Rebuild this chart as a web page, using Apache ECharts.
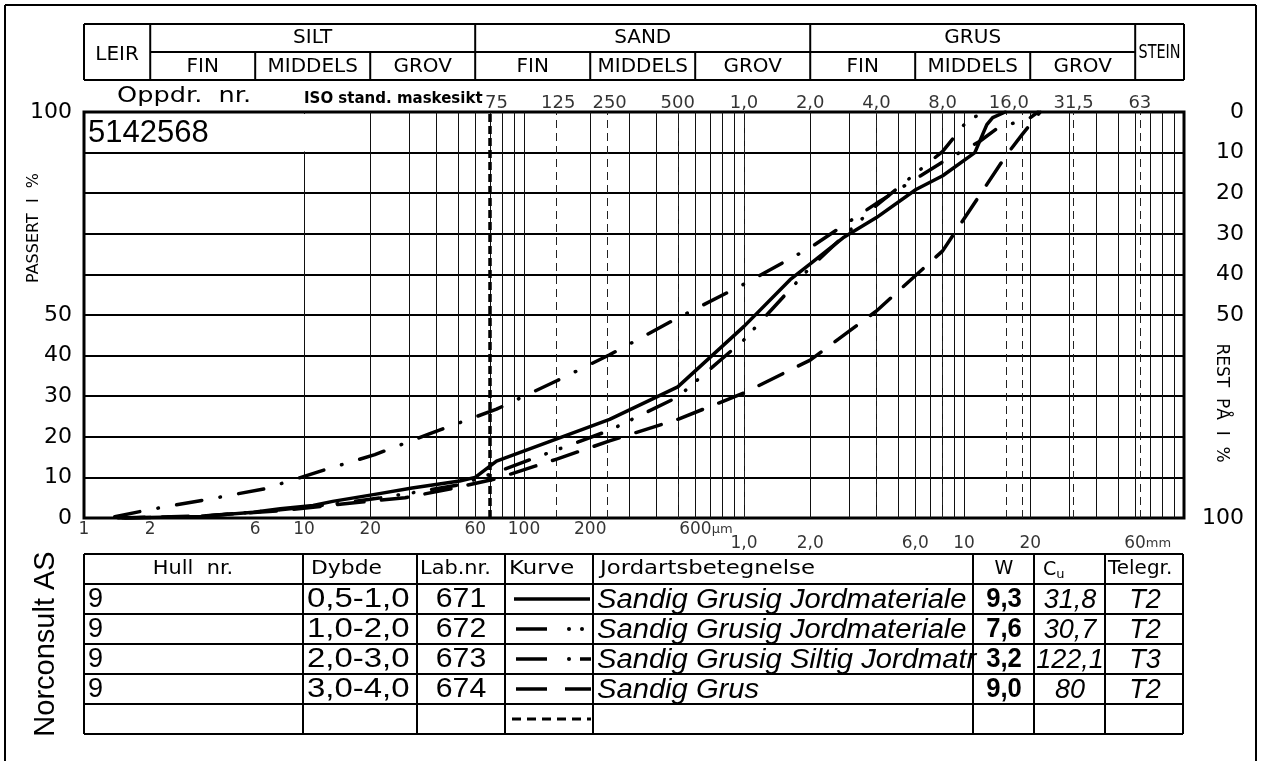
<!DOCTYPE html>
<html>
<head>
<meta charset="utf-8">
<title>Kornfordeling 5142568</title>
<script src="https://cdn.jsdelivr.net/npm/echarts@6.0.0/dist/echarts.min.js"></script>
<style>
html, body { margin: 0; padding: 0; background: #fff; }
#main { width: 1263px; height: 761px; }
</style>
</head>
<body>
<div id="main"></div>
<script>
// kornstørrelse (mm) og passert (%) for hver kurve
const size671 = [0.0015, 0.0034, 0.0059, 0.0078, 0.011, 0.0135, 0.022, 0.031, 0.051, 0.060, 0.075, 0.141, 0.245, 0.5, 1.0, 1.62, 2.0, 2.82, 4.0, 6.05, 8.0, 11.2, 12.7, 13.5, 15.4];
const pass671 = [0, 0.4, 1.4, 2.3, 3.1, 4.1, 6.0, 7.4, 9.1, 10.0, 14.0, 19.5, 24.3, 32.3, 47.2, 58.7, 62.6, 69.0, 74.0, 80.9, 84.3, 90.0, 96.9, 98.6, 100];

const size672 = [0.00154, 0.0034, 0.0078, 0.0135, 0.022, 0.031, 0.051, 0.075, 0.141, 0.245, 0.5, 1.0, 2.0, 4.0, 8.0, 10.4, 12.5];
const pass672 = [0, 0.4, 2.0, 3.4, 4.9, 6.2, 8.2, 11.3, 16.8, 21.6, 29.8, 43.9, 61.7, 77.0, 90.3, 98.0, 100];

const size673 = [0.00138, 0.002, 0.00366, 0.00665, 0.0118, 0.021, 0.0366, 0.075, 0.141, 0.245, 0.5, 1.0, 2.0, 4.0, 8.0, 11.8, 14.6, 19.3, 21.7];
const pass673 = [0.3, 2.1, 4.6, 7.2, 11.5, 15.6, 20.6, 26.8, 33.8, 40.2, 49.3, 57.6, 66.6, 77.5, 87.7, 92.8, 96.5, 98.0, 100];

const size674 = [0.00143, 0.0034, 0.0078, 0.0141, 0.0288, 0.0447, 0.075, 0.141, 0.245, 0.5, 1.0, 2.0, 4.0, 8.0, 15.5, 18.4, 22.2];
const pass674 = [0, 0.5, 1.8, 3.3, 5.0, 7.0, 9.7, 14.5, 19.0, 24.3, 30.8, 38.9, 51.0, 65.8, 89.2, 94.5, 100];

// rutenett og siktelinjer (mm)
const gridSizes = [0.002, 0.003, 0.004, 0.005, 0.006, 0.007, 0.008, 0.009,
  0.01, 0.02, 0.03, 0.04, 0.05, 0.06, 0.07, 0.08, 0.09,
  0.1, 0.2, 0.3, 0.4, 0.5, 0.6, 0.7, 0.8, 0.9,
  1, 2, 3, 4, 5, 6, 7, 8, 9,
  10, 20, 30, 40, 50, 60, 70, 80, 90];
const sieveLines = [0.141, 0.245, 0.5, 1, 4, 8, 15.5, 18.4, 31.5, 63];
const finesLine = 0.075;

// aksetekster
const bottomTickSizes = [0.001, 0.002, 0.006, 0.01, 0.02, 0.06, 0.1, 0.2, 0.6, 1, 2, 6, 10, 20, 60];
const bottomTickLabels = ['1', '2', '6', '10', '20', '60', '100', '200', '600µm', '1,0', '2,0', '6,0', '10', '20', '60mm'];
const sieveLabelSizes = [0.075, 0.143, 0.245, 0.5, 1, 2, 4, 8, 16, 31.5, 63];
const sieveLabels = ['75', '125', '250', '500', '1,0', '2,0', '4,0', '8,0', '16,0', '31,5', '63'];

// fraksjonsinndeling (mm)
const fractionNames = ['SILT', 'SAND', 'GRUS'];
const fractionBounds = [0.002, 0.06, 2, 60];
const subNames = ['FIN', 'MIDDELS', 'GROV'];
const subBounds = [0.002, 0.006, 0.02, 0.06, 0.2, 0.6, 2, 6, 20, 60];

// tabell
const holeNr = ['9', '9', '9', '9'];
const depths = ['0,5-1,0', '1,0-2,0', '2,0-3,0', '3,0-4,0'];
const labNrs = ['671', '672', '673', '674'];
const soilNames = ['Sandig Grusig Jordmateriale', 'Sandig Grusig Jordmateriale', 'Sandig Grusig Siltig Jordmatr', 'Sandig Grus'];
const waterContent = ['9,3', '7,6', '3,2', '9,0'];
const cuValues = ['31,8', '30,7', '122,1', '80'];
const telegr = ['T2', 'T2', 'T3', 'T2'];

const CAD = '"DejaVu Sans"';
const ARIAL = '"Liberation Sans"';

function zip(a, b) { return a.map(function (v, i) { return [v, b[i]]; }); }

function curve(name, sizes, pass, dash) {
  return {
    name: name, type: 'line', z: 10, symbol: 'none', silent: true,
    data: zip(sizes, pass),
    lineStyle: { color: '#000', width: 3.5, type: dash, cap: 'round', join: 'round' }
  };
}

var verticals = gridSizes.map(function (v) { return { xAxis: v }; })
  .concat(sieveLines.map(function (v) {
    return { xAxis: v, lineStyle: { color: '#222', width: 1, type: [8, 5] } };
  }))
  .concat([{ xAxis: finesLine, lineStyle: { color: '#000', width: 3.5, type: [8, 4] } }]);

var option = {
  animation: false,
  backgroundColor: '#fff',
  grid: {
    left: 84, top: 112, width: 1100, height: 406,
    show: true, borderColor: '#000', borderWidth: 3, backgroundColor: 'transparent',
    outerBoundsMode: 'none'
  },
  xAxis: {
    type: 'log', logBase: 10, min: 0.001, max: 100,
    axisLine: { show: false }, axisTick: { show: false }, axisLabel: { show: false },
    splitLine: { show: false }
  },
  yAxis: [{
    type: 'value', min: 0, max: 100, interval: 10, position: 'left',
    axisLine: { show: false }, axisTick: { show: false },
    splitLine: { show: true, lineStyle: { color: '#000', width: 2 } },
    axisLabel: {
      margin: 12, fontSize: 22, fontFamily: 'DejaVu Sans', color: '#000',
      formatter: function (v) { return (v > 50 && v < 100) ? '' : String(v); }
    }
  }, {
    type: 'value', min: 0, max: 100, interval: 10, position: 'right', inverse: true,
    axisLine: { show: false }, axisTick: { show: false }, splitLine: { show: false },
    axisLabel: {
      align: 'right', margin: 60, fontSize: 22, fontFamily: 'DejaVu Sans', color: '#000',
      formatter: function (v) { return (v > 50 && v < 100) ? '' : String(v); }
    }
  }],
  series: [{
    name: 'bunn', type: 'scatter', symbolSize: 0.1, clip: false, silent: true,
    itemStyle: { color: 'transparent' },
    data: bottomTickSizes.map(function (v, i) {
      var lbl = bottomTickLabels[i];
      var item = { value: [v, 0], name: lbl };
      var unit = /[a-zµ]/.test(lbl);
      item.label = { distance: v >= 1 ? 17 : 3 };
      if (unit) { item.label.align = 'left'; item.label.offset = [v >= 1 ? -11 : -16, 0]; }
      return item;
    }),
    label: {
      show: true, position: 'bottom', color: '#000',
      formatter: function (p) {
        var m = p.name.match(/^([\d,]+)(\D*)$/);
        return m[2] ? '{n|' + m[1] + '}{u|' + m[2] + '}' : '{n|' + p.name + '}';
      },
      rich: {
        n: { fontSize: 17, fontFamily: 'DejaVu Sans', color: '#000' },
        u: { fontSize: 13, fontFamily: 'DejaVu Sans', color: '#000' }
      }
    },
    markLine: {
      silent: true, symbol: ['none', 'none'], animation: false,
      label: { show: false },
      lineStyle: { color: '#111', width: 1, type: 'solid' },
      data: verticals
    }
  }, {
    name: 'sikt', type: 'scatter', symbolSize: 0.1, clip: false, silent: true,
    itemStyle: { color: 'transparent' },
    data: sieveLabelSizes.map(function (v, i) { return { value: [v, 100], name: sieveLabels[i] }; }),
    label: {
      show: true, position: 'top', distance: 0, color: '#000',
      fontSize: 18, fontFamily: 'DejaVu Sans',
      formatter: function (p) { return p.name; }
    }
  },
    curve('671', size671, pass671, 'solid'),
    curve('672', size672, pass672, [25.5, 17.5, 0.5, 15, 0.5, 18]),
    curve('673', size673, pass673, [25.5, 18.5, 0.5, 18.5]),
    curve('674', size674, pass674, [26.5, 17.5])
  ]
};

var chart = echarts.init(document.getElementById('main'), null, { renderer: 'canvas' });
chart.setOption(option);

function px(v) { return chart.convertToPixel({ xAxisIndex: 0 }, v); }

function text(x, y, str, font, o) {
  o = o || {};
  var st = {
    text: str, font: font, fill: '#000',
    align: o.align || 'left', verticalAlign: 'middle',
    textAlign: o.align || 'left', textVerticalAlign: 'middle'
  };
  if (o.rich) st.rich = o.rich;
  return { type: 'text', x: x, y: y, z: 30, silent: true,
    rotation: o.rot || 0, scaleX: o.sx || 1, scaleY: 1, style: st };
}
function seg(x1, y1, x2, y2, w) {
  return { type: 'line', z: 30, silent: true, shape: { x1: x1, y1: y1, x2: x2, y2: y2 },
    style: { stroke: '#000', lineWidth: w || 2 } };
}

function buildGraphic() {
  var g = [];
  // ramme
  g.push(seg(5, 5, 1256, 5, 2), seg(5, 5, 5, 761, 2), seg(1256, 5, 1256, 761, 2));

  // fraksjonshode
  var xL = px(0.001), xR = px(100);
  var hTop = 24, hMid = 52, hBot = 80;
  g.push(seg(xL, hTop, xR, hTop), seg(xL, hBot, xR, hBot), seg(xL, hTop, xL, hBot), seg(xR, hTop, xR, hBot));
  g.push(seg(px(fractionBounds[0]), hMid, px(fractionBounds[3]), hMid));
  fractionBounds.forEach(function (b) { g.push(seg(px(b), hTop, px(b), hBot)); });
  subBounds.forEach(function (b) {
    if (fractionBounds.indexOf(b) < 0) g.push(seg(px(b), hMid, px(b), hBot));
  });
  var hf = '20px ' + CAD;
  g.push(text((xL + px(0.002)) / 2, 55, 'LEIR', hf, { align: 'center' }));
  g.push(text((px(60) + xR) / 2, 53, 'STEIN', hf, { align: 'center', sx: 0.72 }));
  fractionNames.forEach(function (n, i) {
    g.push(text((px(fractionBounds[i]) + px(fractionBounds[i + 1])) / 2, 38, n, hf, { align: 'center' }));
  });
  for (var i = 0; i < subBounds.length - 1; i++) {
    g.push(text((px(subBounds[i]) + px(subBounds[i + 1])) / 2, 67, subNames[i % 3], hf, { align: 'center' }));
  }

  g.push(text(117, 97, 'Oppdr.  nr.', '21px ' + CAD, { sx: 1.22 }));
  g.push(text(304, 99, 'ISO stand. maskesikt', '600 15px ' + CAD));

  // oppdragsnummer
  g.push({ type: 'rect', z: 25, silent: true, shape: { x: 86, y: 114, width: px(0.02) - 87, height: 37.5 },
    style: { fill: '#fff' } });
  g.push(text(88, 133, '5142568', '31px ' + ARIAL));

  // aksetitler
  g.push(text(34, 228, 'PASSERT  I  %', '16px ' + CAD, { align: 'center', rot: Math.PI / 2 }));
  g.push(text(1221, 403, 'REST  PÅ  I  %', '17px ' + CAD, { align: 'center', rot: -Math.PI / 2 }));

  // tabell
  var cols = [84, 303, 417, 505, 593, 973, 1034, 1105, 1183];
  var rows = [554, 584, 614, 644, 674, 704, 734];
  cols.forEach(function (c) { g.push(seg(c, rows[0], c, rows[rows.length - 1])); });
  rows.forEach(function (r) { g.push(seg(cols[0], r, cols[cols.length - 1], r)); });

  var tf = '19px ' + CAD, ty = (rows[0] + rows[1]) / 2;
  g.push(text(193, ty, 'Hull  nr.', tf, { align: 'center', sx: 1.1 }));
  g.push(text(311, ty, 'Dybde', tf, { sx: 1.15 }));
  g.push(text(420, ty, 'Lab.nr.', tf, { sx: 1.1 }));
  g.push(text(509, ty, 'Kurve', tf, { sx: 1.2 }));
  g.push(text(600, ty, 'Jordartsbetegnelse', tf, { sx: 1.2 }));
  g.push(text(1004, ty, 'W', tf, { align: 'center' }));
  g.push(text(1043, ty + 1, '{c|C}{s|u}', tf, { rich: {
    c: { font: tf, fill: '#000' },
    s: { font: '13px ' + CAD, fill: '#000', padding: [10, 0, 0, 0] } } }));
  g.push(text(1108, ty, 'Telegr.', tf, { sx: 1.05 }));

  var rf = '27px ' + ARIAL;
  for (var r = 0; r < labNrs.length; r++) {
    var cy = (rows[r + 1] + rows[r + 2]) / 2 + 1;
    g.push(text(88, cy, holeNr[r], rf));
    g.push(text(307, cy, depths[r], rf, { sx: 1.22 }));
    g.push(text(461, cy, labNrs[r], rf, { align: 'center', sx: 1.12 }));
    g.push(text(597, cy, soilNames[r], 'italic ' + rf, { sx: 1.08 }));
    g.push(text(1004, cy, waterContent[r], 'bold ' + rf, { align: 'center', sx: 0.95 }));
    g.push(text(1070, cy, cuValues[r], 'italic ' + rf, { align: 'center' }));
    g.push(text(1145, cy, telegr[r], 'italic ' + rf, { align: 'center' }));
  }

  // kurvesymboler
  var ly = function (k) { return (rows[k + 1] + rows[k + 2]) / 2; };
  var dot = function (x, y) {
    return { type: 'circle', z: 30, silent: true, shape: { cx: x, cy: y, r: 2 }, style: { fill: '#000' } };
  };
  g.push(seg(514, ly(0), 590, ly(0), 3.5));
  g.push(seg(516, ly(1), 547, ly(1), 3.5), dot(569, ly(1)), dot(582, ly(1)));
  g.push(seg(516, ly(2), 547, ly(2), 3.5), dot(569, ly(2)), seg(580, ly(2), 591, ly(2), 3.5));
  g.push(seg(516, ly(3), 547, ly(3), 3.5), seg(565, ly(3), 591, ly(3), 3.5));
  g.push({ type: 'line', z: 30, silent: true, shape: { x1: 512, y1: ly(4), x2: 591, y2: ly(4) },
    style: { stroke: '#000', lineWidth: 3, lineDash: [9, 6] } });

  g.push(text(46, 644, 'Norconsult AS', '29px ' + ARIAL, { align: 'center', rot: Math.PI / 2 }));
  return g;
}

chart.setOption({ graphic: { elements: buildGraphic() } });
</script>
</body>
</html>
